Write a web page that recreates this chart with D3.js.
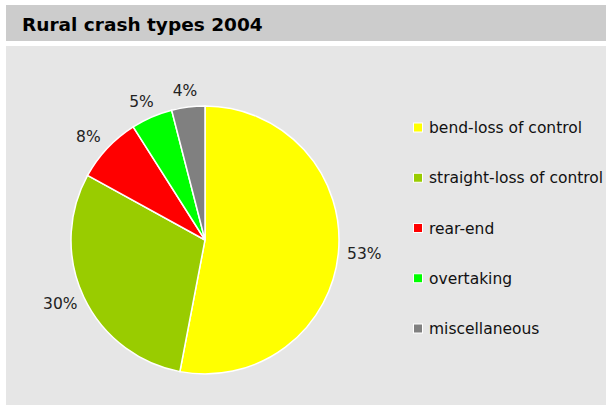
<!DOCTYPE html>
<html>
<head>
<meta charset="utf-8">
<script src="https://cdn.jsdelivr.net/npm/d3@7.9.0/dist/d3.min.js"></script>
<style>
  body { margin: 0; background: #fff; }
  svg { display: block; font-family: "DejaVu Sans", Verdana, sans-serif; }
</style>
</head>
<body>
<svg id="chart" width="606" height="405"></svg>
<script>
const title = 'Rural crash types 2004';
const categories = ['bend-loss of control', 'straight-loss of control', 'rear-end', 'overtaking', 'miscellaneous'];
const shares = [53, 30, 8, 5, 4]; // percent
const colors = ['#ffff00', '#99cc00', '#ff0000', '#00ff00', '#808080'];

const svg = d3.select('#chart');
const width = 606, height = 405;

// title bar
svg.append('rect').attr('x', 6).attr('y', 5).attr('width', width - 6).attr('height', 36).attr('fill', '#cccccc');
svg.append('text')
  .attr('x', 22).attr('y', 31)
  .attr('font-size', 18.5).attr('font-weight', 'bold')
  .text(title);

// plot panel
svg.append('rect').attr('x', 6).attr('y', 46).attr('width', width - 6).attr('height', height - 46).attr('fill', '#e6e6e6');

const cx = 205, cy = 240, r = 134;

const pie = d3.pie().sort(null).value(d => d);
const arcs = pie(shares);
const arc = d3.arc().innerRadius(0).outerRadius(r);

const g = svg.append('g').attr('transform', `translate(${cx},${cy})`);

g.selectAll('path')
  .data(arcs)
  .join('path')
  .attr('d', arc)
  .attr('fill', (d, i) => colors[i])
  .attr('stroke', '#fff')
  .attr('stroke-width', 1.5);

// labels outside the slices
const gap = 9, halfW = 17, halfH = 7;
g.selectAll('text.lbl')
  .data(arcs)
  .join('text')
  .attr('class', 'lbl')
  .attr('font-size', 15.5)
  .attr('fill', '#222')
  .attr('text-anchor', 'middle')
  .attr('dominant-baseline', 'central')
  .attr('x', d => {
    const a = (d.startAngle + d.endAngle) / 2;
    return Math.sin(a) * (r + gap) + Math.sin(a) * halfW;
  })
  .attr('y', d => {
    const a = (d.startAngle + d.endAngle) / 2;
    return -Math.cos(a) * (r + gap) - Math.cos(a) * halfH;
  })
  .text(d => d.data + '%');

// legend
const legendY = d3.scalePoint().domain(categories).range([128, 329]);
const legend = svg.append('g');
legend.selectAll('rect')
  .data(categories)
  .join('rect')
  .attr('x', 413.5)
  .attr('y', d => legendY(d) - 5)
  .attr('width', 9).attr('height', 9)
  .attr('fill', (d, i) => colors[i])
  .attr('stroke', '#fff')
  .attr('stroke-width', 1);
legend.selectAll('text')
  .data(categories)
  .join('text')
  .attr('x', 429)
  .attr('y', d => legendY(d))
  .attr('dominant-baseline', 'central')
  .attr('font-size', 15.5)
  .attr('fill', '#111')
  .text(d => d);
</script>
</body>
</html>
